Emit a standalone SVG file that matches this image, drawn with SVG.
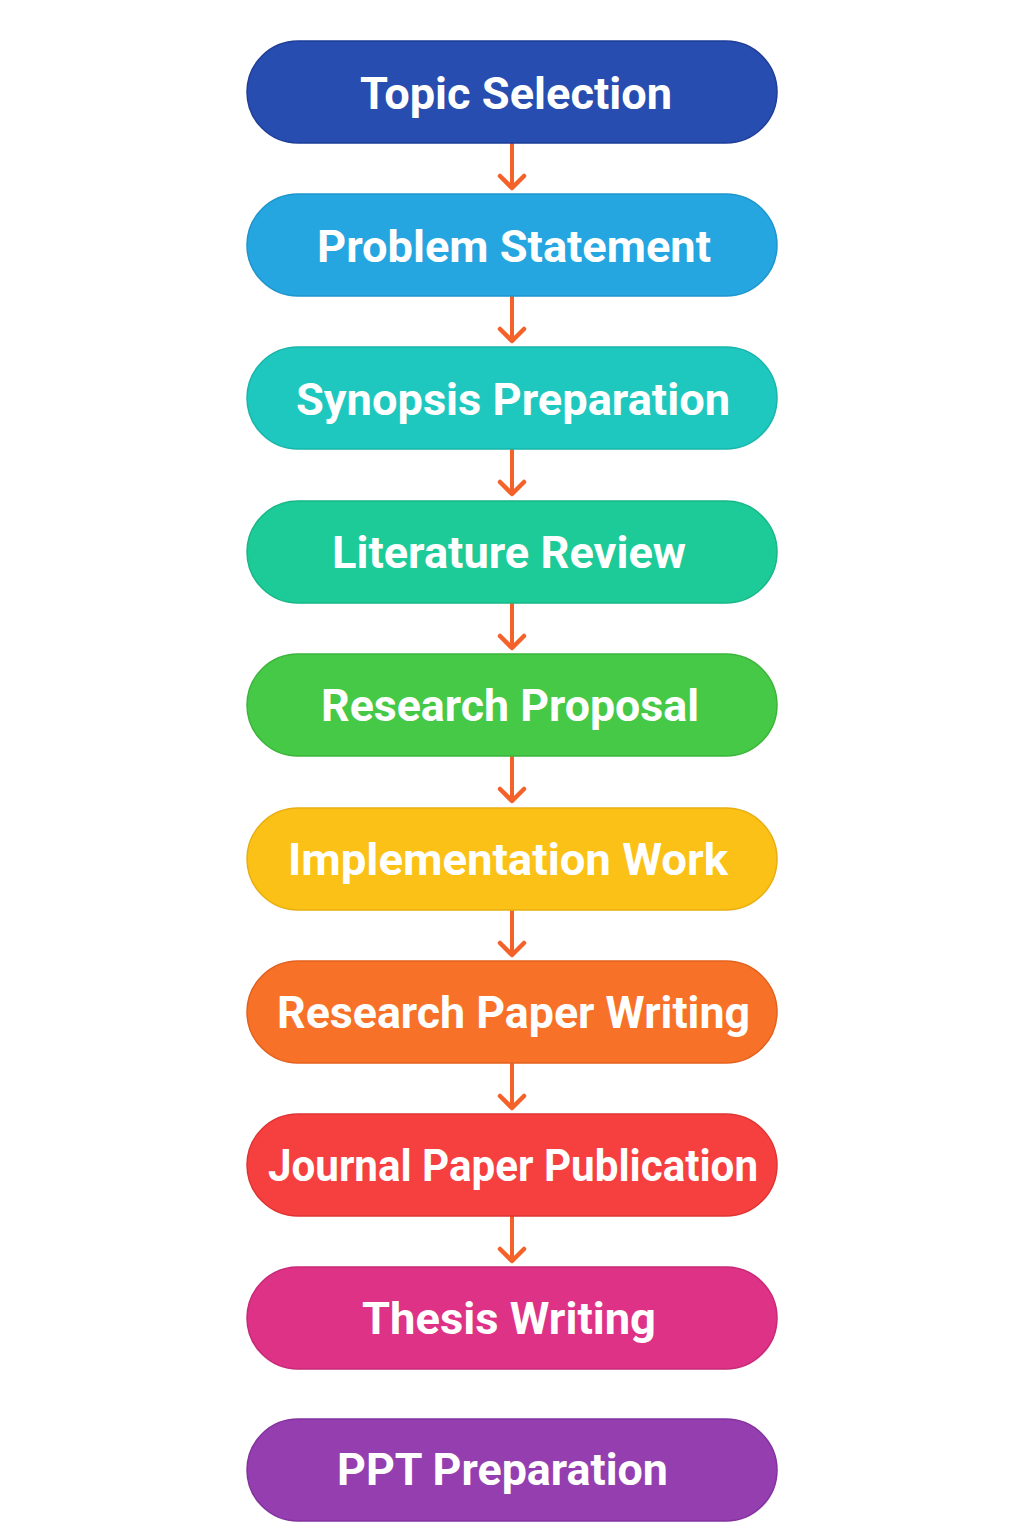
<svg xmlns="http://www.w3.org/2000/svg" width="1024" height="1536" viewBox="0 0 1024 1536">
<defs>
<style>
.node rect{stroke-width:1.5}
.node text{font-family:Roboto,"Liberation Sans",sans-serif;font-weight:bold;font-size:45px;fill:#fff;text-anchor:middle}
.conn line{stroke:#F4622A;stroke-width:4}
.conn path{fill:none;stroke:#F4622A;stroke-width:4.5;stroke-linecap:round;stroke-linejoin:round}
</style>
</defs>
<rect width="1024" height="1536" fill="#fff"/>
<g class="conn">
<line x1="512" y1="143" x2="512" y2="188"/><path d="M500 176 L512 188 L524 176"/>
<line x1="512" y1="296" x2="512" y2="341"/><path d="M500 329 L512 341 L524 329"/>
<line x1="512" y1="449" x2="512" y2="494"/><path d="M500 482 L512 494 L524 482"/>
<line x1="512" y1="603" x2="512" y2="648"/><path d="M500 636 L512 648 L524 636"/>
<line x1="512" y1="756" x2="512" y2="801"/><path d="M500 789 L512 801 L524 789"/>
<line x1="512" y1="910" x2="512" y2="955"/><path d="M500 943 L512 955 L524 943"/>
<line x1="512" y1="1063" x2="512" y2="1108"/><path d="M500 1096 L512 1108 L524 1096"/>
<line x1="512" y1="1216" x2="512" y2="1261"/><path d="M500 1249 L512 1261 L524 1249"/>
</g>
<g id="n1" class="node"><rect x="247" y="41" width="530" height="102" rx="51" fill="#264DAF" stroke="#1E3E99"/><text x="516" y="109" textLength="312" lengthAdjust="spacingAndGlyphs">Topic Selection</text></g>
<g id="n2" class="node"><rect x="247" y="194" width="530" height="102" rx="51" fill="#25A6E0" stroke="#1E95CC"/><text x="514" y="262" textLength="394" lengthAdjust="spacingAndGlyphs">Problem Statement</text></g>
<g id="n3" class="node"><rect x="247" y="347" width="530" height="102" rx="51" fill="#1FC8BE" stroke="#19B5AB"/><text x="513" y="415" textLength="434" lengthAdjust="spacingAndGlyphs">Synopsis Preparation</text></g>
<g id="n4" class="node"><rect x="247" y="501" width="530" height="102" rx="51" fill="#1DCB98" stroke="#18B787"/><text x="509" y="568" textLength="354" lengthAdjust="spacingAndGlyphs">Literature Review</text></g>
<g id="n5" class="node"><rect x="247" y="654" width="530" height="102" rx="51" fill="#46C946" stroke="#3BB53B"/><text x="510" y="721" textLength="378" lengthAdjust="spacingAndGlyphs">Research Proposal</text></g>
<g id="n6" class="node"><rect x="247" y="808" width="530" height="102" rx="51" fill="#FBC117" stroke="#E8AE10"/><text x="508" y="875" textLength="440" lengthAdjust="spacingAndGlyphs">Implementation Work</text></g>
<g id="n7" class="node"><rect x="247" y="961" width="530" height="102" rx="51" fill="#F77228" stroke="#E2611C"/><text x="513.5" y="1028" textLength="473" lengthAdjust="spacingAndGlyphs">Research Paper Writing</text></g>
<g id="n8" class="node"><rect x="247" y="1114" width="530" height="102" rx="51" fill="#F64040" stroke="#E03333"/><text x="513" y="1181" textLength="490" lengthAdjust="spacingAndGlyphs">Journal Paper Publication</text></g>
<g id="n9" class="node"><rect x="247" y="1267" width="530" height="102" rx="51" fill="#DD3286" stroke="#C82877"/><text x="509" y="1334" textLength="294" lengthAdjust="spacingAndGlyphs">Thesis Writing</text></g>
<g id="n10" class="node"><rect x="247" y="1419" width="530" height="102" rx="51" fill="#953EB0" stroke="#84329F"/><text x="502.5" y="1485" textLength="331" lengthAdjust="spacingAndGlyphs">PPT Preparation</text></g>
</svg>
